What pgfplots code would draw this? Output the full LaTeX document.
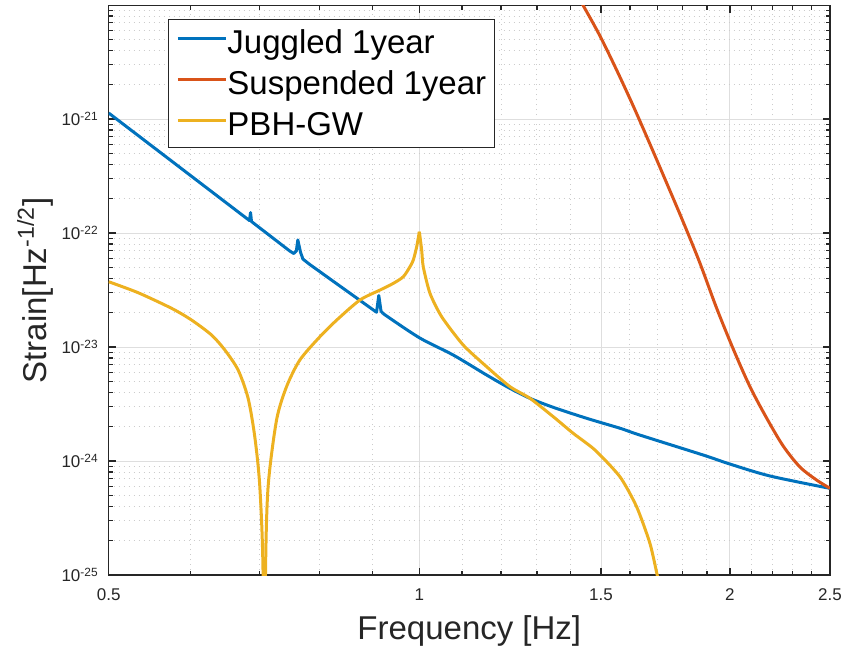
\documentclass[border=0pt]{standalone}
\usepackage{fontspec}
\setmainfont{Liberation Sans}
\usepackage{pgfplots}
\pgfplotsset{compat=1.18}
\definecolor{mblue}{rgb}{0,0.447,0.741}
\definecolor{morange}{rgb}{0.850,0.325,0.098}
\definecolor{myellow}{rgb}{0.929,0.694,0.125}
\definecolor{axgray}{rgb}{0.15,0.15,0.15}
\definecolor{gridmaj}{rgb}{0.872,0.872,0.872}
\definecolor{gridmin}{rgb}{0.80,0.80,0.80}
\begin{document}
\begin{tikzpicture}
\useasboundingbox (-54.35pt,-37.5pt) rectangle (367.15pt,287.5pt);
\begin{axis}[
  at={(0,0)}, anchor=south west,
  scale only axis, width=360.65pt, height=284.65pt,
  xmode=log, ymode=log,
  xmin=0.5, xmax=2.5, ymin=1e-25, ymax=9.86e-21,
  xtick={0.5,1,1.5,2,2.5}, xticklabels={0.5,1,1.5,2,2.5},
  minor xtick={0.6,0.7,0.8,0.9,1.1,1.2,1.3,1.4,1.6,1.7,1.8,1.9,2.1,2.2,2.3,2.4},
  ytick={1e-25,1e-24,1e-23,1e-22,1e-21},
  yticklabels={10\textsuperscript{-25},10\textsuperscript{-24},10\textsuperscript{-23},10\textsuperscript{-22},10\textsuperscript{-21}},
  minor ytick={2e-25,3e-25,4e-25,5e-25,6e-25,7e-25,8e-25,9e-25,
               2e-24,3e-24,4e-24,5e-24,6e-24,7e-24,8e-24,9e-24,
               2e-23,3e-23,4e-23,5e-23,6e-23,7e-23,8e-23,9e-23,
               2e-22,3e-22,4e-22,5e-22,6e-22,7e-22,8e-22,9e-22,
               2e-21,3e-21,4e-21,5e-21,6e-21,7e-21,8e-21,9e-21},
  grid=both,
  major grid style={gridmaj, line width=0.5pt},
  minor grid style={gridmin, line width=0.5pt, dash pattern=on 0.5pt off 2pt},
  axis line style={axgray, line width=0.6pt},
  tick style={axgray, line width=0.6pt},
  major tick length=3.6pt, minor tick length=2pt,
  tick align=inside,
  ticklabel style={font=\fontsize{8.5}{10}\selectfont, text=axgray},
  xticklabel style={yshift=-3.5pt},
  yticklabel style={xshift=-1.5pt},
  xlabel={Frequency [Hz]},
  ylabel={Strain[Hz\textsuperscript{-1/2}]},
  label style={font=\fontsize{16.5}{19}\selectfont, text=axgray},
  xlabel style={at={(axis description cs:0.5,-0.1124)}, anchor=base},
  ylabel style={at={(axis description cs:-0.0862,0.5)}, anchor=base},
  legend style={at={(0.0822,0.9761)}, anchor=north west,
    font=\fontsize{16.5}{19}\selectfont, draw=axgray, line width=0.5pt, fill=white,
    inner xsep=4pt, inner ysep=5pt, row sep=7.5pt,
    nodes={inner sep=0pt, text height=12pt, text depth=1pt},
    /tikz/every even column/.append style={column sep=3.5pt}},
  legend cell align=left,
  legend image code/.code={\draw[#1] (0pt,2pt) -- (24pt,2pt);},
  every axis plot/.append style={line join=round},
]
% Juggled 1year, low-frequency part with resonance spikes
\addplot[color=mblue, line width=1.5pt] table {
0.5 1.129e-21
0.6846 1.287e-22
0.6862 1.512e-22
0.6877 1.261e-22
0.7491 6.95e-23
0.7558 6.61e-23
0.7600 6.95e-23
0.7626 8.69e-23
0.7672 6.81e-23
0.7713 5.91e-23
0.7834 5.29e-23
0.9089 2.02e-23
0.9135 2.83e-23
0.9180 2.07e-23
0.9221 1.97e-23
};
\addlegendentry{Juggled 1year}
% Juggled 1year, high-frequency part
\addplot[color=mblue, line width=1.5pt, smooth, tension=0.5, forget plot] table {
0.9221 1.97e-23
1.0 1.207e-23
1.0786 8.51e-24
1.1621 5.68e-24
1.2242 4.34e-24
1.2800 3.55e-24
1.3482 2.96e-24
1.4529 2.37e-24
1.5646 1.94e-24
1.6359 1.69e-24
1.8842 1.129e-24
2.0 9.41e-25
2.1873 7.39e-25
2.5 5.76e-25
};
\addplot[color=morange, line width=1.5pt, smooth, tension=0.5] table {
1.4249 1.187e-20
1.4419 9.86e-21
1.4966 5.35e-21
1.5532 2.69e-21
1.6118 1.30e-21
1.6730 6.03e-22
1.7365 2.75e-22
1.8020 1.249e-22
1.8704 5.46e-23
1.9414 2.20e-23
2.0147 9.60e-24
2.0912 4.49e-24
2.1706 2.38e-24
2.2524 1.353e-24
2.3380 8.86e-25
2.4266 6.81e-25
2.5 5.76e-25
};
\addlegendentry{Suspended 1year}
% PBH-GW
\addplot[color=myellow, line width=1.5pt, smooth, tension=0.45] table {
0.5 3.74e-23
0.5340 2.995e-23
0.5754 2.185e-23
0.6016 1.725e-23
0.6291 1.274e-23
0.6480 9.41e-24
0.6675 6.28e-24
0.6825 3.55e-24
0.6928 1.63e-24
0.7006 5.95e-25
0.7057 1e-25
0.7071 1e-27
};
\addlegendentry{PBH-GW}
\addplot[color=myellow, line width=1.5pt, smooth, tension=0.45, forget plot] table {
0.7071 1e-27
0.7095 1e-25
0.7137 5.95e-25
0.7272 2.29e-24
0.7436 4.49e-24
0.7660 7.69e-24
0.8010 1.232e-23
0.8317 1.725e-23
0.8759 2.585e-23
0.9159 3.16e-23
0.9436 3.62e-23
0.9648 4.14e-23
0.9793 5.06e-23
0.9866 5.80e-23
0.9941 7.58e-23
1.0 1.027e-22
};
\addplot[color=myellow, line width=1.5pt, smooth, tension=0.4, forget plot] table {
1.0 1.027e-22
1.0052 7.10e-23
1.0088 5.06e-23
1.0240 2.96e-23
1.0511 1.844e-23
1.1029 1.041e-23
1.1621 6.72e-24
1.2242 4.49e-24
1.2800 3.55e-24
1.3482 2.45e-24
1.4098 1.75e-24
1.4799 1.249e-24
1.5646 7.28e-25
1.6239 3.97e-25
1.6729 1.897e-25
1.7004 1e-25
1.7107 7.85e-26
};
\end{axis}
\end{tikzpicture}
\end{document}
